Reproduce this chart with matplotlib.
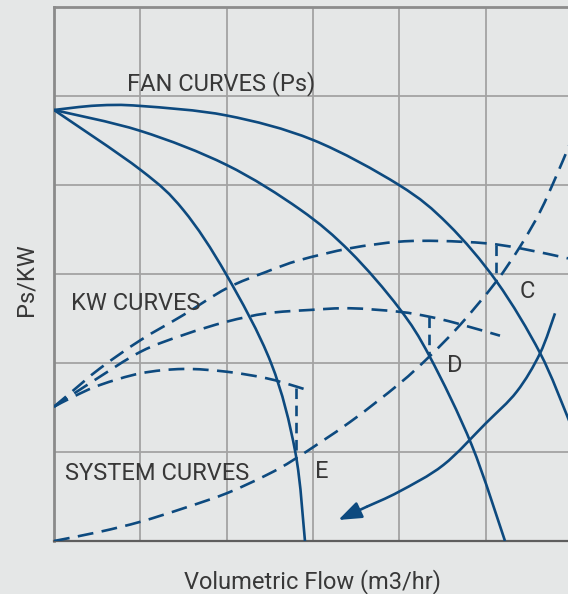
import matplotlib
matplotlib.use("Agg")
import matplotlib.pyplot as plt
from matplotlib.path import Path
from matplotlib.patches import PathPatch

# Fan curves (static pressure vs flow), grid units
fan1_flow = [0.0, 1.004, 1.498, 1.992, 2.514, 2.795, 2.907]
fan1_ps = [4.843, 4.169, 3.719, 3.000, 2.000, 1.000, 0.0]

fan2_flow = [0.0, 1.004, 2.000, 2.850, 3.429, 3.996, 4.355, 4.838, 5.224]
fan2_ps = [4.843, 4.607, 4.225, 3.725, 3.251, 2.618, 2.067, 1.079, 0.0]

fan3_flow = [0.0, 0.498, 1.004, 2.000, 3.000, 3.996, 4.564, 5.131, 5.630, 5.954, 6.035]
fan3_ps = [4.843, 4.893, 4.888, 4.781, 4.506, 4.000, 3.560, 2.910, 2.112, 1.382, 1.180]

# Power (KW) curves
kw1_flow = [0.0, 0.185, 0.533, 1.004, 1.498, 2.000, 2.464, 2.850, 3.429, 3.996, 4.471, 5.001, 5.398, 5.954]
kw1_val = [1.509, 1.660, 1.940, 2.258, 2.539, 2.839, 3.026, 3.157, 3.289, 3.363, 3.371, 3.345, 3.289, 3.176]

kw2_flow = [0.0, 0.455, 1.004, 1.498, 2.000, 2.464, 2.965, 3.429, 3.996, 4.347, 4.665, 5.166]
kw2_val = [1.509, 1.798, 2.127, 2.315, 2.464, 2.558, 2.596, 2.615, 2.576, 2.520, 2.446, 2.307]

kw3_flow = [0.0, 0.224, 0.533, 1.004, 1.498, 2.000, 2.464, 2.811, 2.965]
kw3_val = [1.509, 1.621, 1.753, 1.884, 1.933, 1.902, 1.828, 1.734, 1.685]

# System resistance curve
sys_flow = [0.0, 0.533, 1.004, 1.498, 2.000, 2.464, 2.803, 3.429, 3.996, 4.347, 4.703, 5.116, 5.398, 5.630, 5.823, 5.954, 6.035]
sys_ps = [0.0, 0.104, 0.217, 0.367, 0.536, 0.742, 0.929, 1.337, 1.764, 2.072, 2.427, 2.907, 3.307, 3.700, 4.112, 4.412, 4.596]

# Operating points: flow, pressure on system curve, power on KW curve
op_names = ["C", "D", "E"]
op_flow = [5.125, 4.347, 2.803]
op_ps = [2.910, 2.072, 0.929]
op_kw = [3.330, 2.520, 1.719]

# Shift of operating point (curved arrow)
arrow_flow = [5.803, 5.630, 5.360, 5.001, 4.510, 3.996, 3.622, 3.293]
arrow_val = [2.558, 2.109, 1.678, 1.322, 0.854, 0.554, 0.385, 0.236]

BG = "#e5e7e7"
BLUE = "#0d4a7f"
GRID = "#a3a3a3"
TXT = "#383838"
LW = 1.9

plt.rcParams["font.family"] = ["Roboto", "DejaVu Sans"]


def smooth_curve(ax, xs, ys, dashed=False):
    """Draw a smooth (Catmull-Rom style) cubic path through the given points."""
    pts = list(zip(xs, ys))
    n = len(pts)
    verts = [pts[0]]
    codes = [Path.MOVETO]
    for i in range(n - 1):
        p0 = pts[i - 1] if i > 0 else pts[i]
        p1 = pts[i]
        p2 = pts[i + 1]
        p3 = pts[i + 2] if i + 2 < n else pts[i + 1]
        c1 = (p1[0] + (p2[0] - p0[0]) / 6.0, p1[1] + (p2[1] - p0[1]) / 6.0)
        c2 = (p2[0] - (p3[0] - p1[0]) / 6.0, p2[1] - (p3[1] - p1[1]) / 6.0)
        verts += [c1, c2, p2]
        codes += [Path.CURVE4, Path.CURVE4, Path.CURVE4]
    patch = PathPatch(Path(verts, codes), facecolor="none", edgecolor=BLUE,
                      lw=LW, capstyle="butt", joinstyle="round", zorder=3)
    if dashed:
        patch.set_linestyle((0, (6, 3.2)))
    ax.add_patch(patch)


fig = plt.figure(figsize=(5.68, 5.94), dpi=100, facecolor=BG)
ax = fig.add_axes([54 / 568, 53 / 594, 518 / 568, 534 / 594])
ax.set_facecolor(BG)
ax.set_xlim(0, 6)
ax.set_ylim(0, 6)

for v in range(1, 6):
    ax.axvline(v, color=GRID, lw=1.3, zorder=1)
    ax.axhline(v, color=GRID, lw=1.3, zorder=1)

ax.set_xticks([])
ax.set_yticks([])
ax.spines["right"].set_visible(False)
ax.spines["top"].set_color("#8c8c8c")
ax.spines["top"].set_linewidth(2.0)
ax.spines["left"].set_color("#8a8a8a")
ax.spines["left"].set_linewidth(2.0)
ax.spines["bottom"].set_color("#5e5e5e")
ax.spines["bottom"].set_linewidth(1.6)

for fx, fy in [(fan1_flow, fan1_ps), (fan2_flow, fan2_ps), (fan3_flow, fan3_ps)]:
    smooth_curve(ax, fx, fy)

for fx, fy in [(kw1_flow, kw1_val), (kw2_flow, kw2_val), (kw3_flow, kw3_val)]:
    smooth_curve(ax, fx, fy, dashed=True)

smooth_curve(ax, sys_flow, sys_ps, dashed=True)

for q, p, k in zip(op_flow, op_ps, op_kw):
    ax.plot([q, q], [k, p], color=BLUE, lw=LW, dashes=(4, 2.5),
            dash_capstyle="butt", zorder=3)

smooth_curve(ax, arrow_flow[:-1], arrow_val[:-1])
ax.annotate("", xy=(arrow_flow[-1], arrow_val[-1]), xytext=(arrow_flow[-2], arrow_val[-2]),
            arrowprops=dict(arrowstyle="-|>,head_length=0.7,head_width=0.26",
                            mutation_scale=20, color=BLUE, lw=LW,
                            shrinkA=0, shrinkB=0), zorder=4)

label_kw = dict(color=TXT, fontsize=17, ha="left", va="baseline", zorder=5)
ax.text(0.846, 5.067, "FAN CURVES (Ps)", **label_kw)
ax.text(0.200, 2.596, "KW CURVES", **label_kw)
ax.text(0.133, 0.685, "SYSTEM CURVES", **label_kw)

op_label_pos = {"C": (5.390, 2.730), "D": (4.556, 1.899), "E": (3.027, 0.708)}
for name in op_names:
    x, y = op_label_pos[name]
    ax.text(x, y, name, **label_kw)

fig.text(312.5 / 568, 1 - 588 / 594, "Volumetric Flow (m3/hr)", color=TXT,
         fontsize=17, ha="center", va="baseline")
fig.text(26 / 568, 1 - 280 / 594, "Ps/KW", color=TXT, fontsize=17,
         ha="center", va="center", rotation=90)

fig.savefig("out.png", dpi=100, facecolor=BG)
